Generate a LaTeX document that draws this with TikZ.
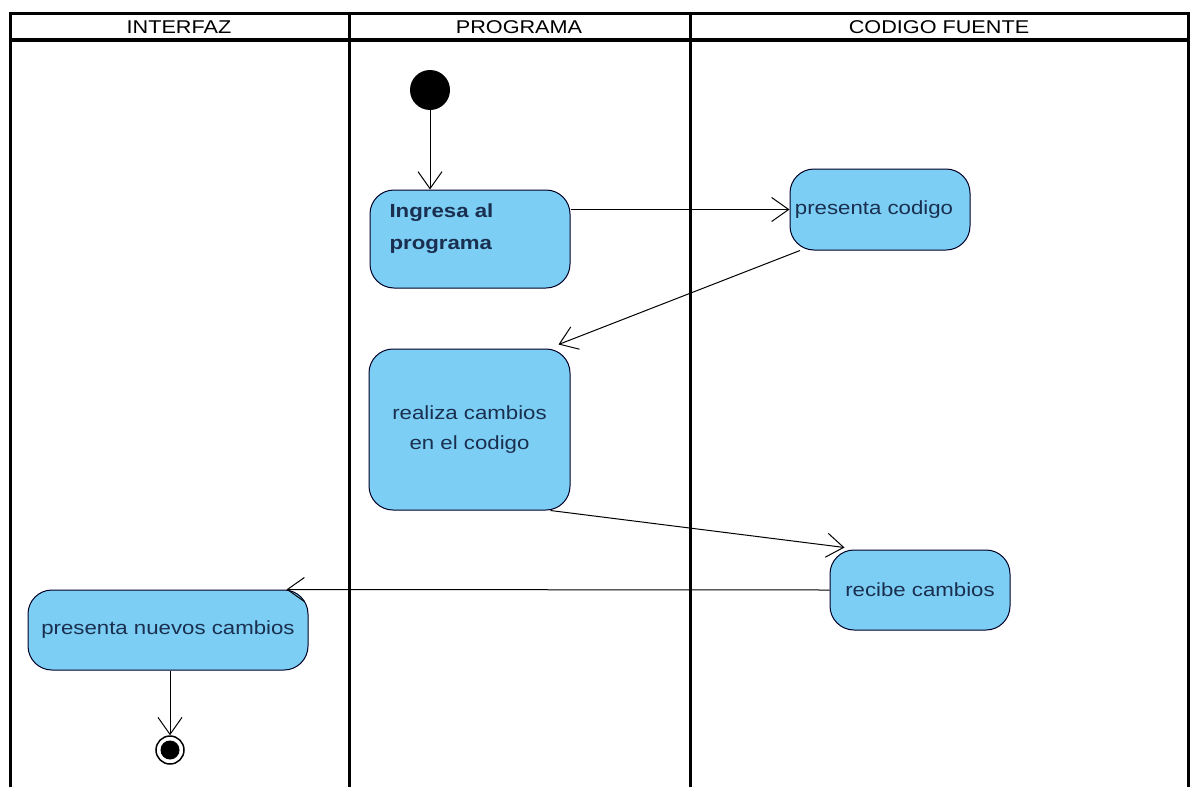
\documentclass[tikz,border=0pt]{standalone}
\usepackage{fontspec}
\setmainfont{Liberation Sans}[FakeStretch=1.17]
\usetikzlibrary{arrows.meta}
\definecolor{actfill}{HTML}{7CCEF4}
\definecolor{acttext}{HTML}{1A2F4F}
\tikzset{
  lane/.style={line width=3pt},
  act/.style={draw=black!85!blue, line width=1pt, fill=actfill, rounded corners=24pt, inner sep=0pt, text=acttext, font=\fontsize{19}{30}\selectfont},
  flow/.style={line width=1pt, -{Straight Barb[length=17pt,width=24pt,line width=1pt]}},
  hdr/.style={font=\fontsize{18.5}{20}\selectfont}
}
\begin{document}
\begin{tikzpicture}[x=1pt,y=-1pt]
\useasboundingbox (0,0) rectangle (1190,787);
% swimlanes
\draw[lane] (10,787) -- (10,13) -- (1188,13) -- (1188,787);
\draw[line width=4pt] (10,40) -- (1188,40);
\draw[lane] (349,13) -- (349,787);
\draw[lane] (690,13) -- (690,787);
\node[hdr] (h1) at (179,27) {INTERFAZ};
\node[hdr] (h2) at (519,27) {PROGRAMA};
\node[hdr] (h3) at (939,27) {CODIGO FUENTE};
% initial / final
\node[circle, fill=black, minimum size=40pt, inner sep=0pt] (init) at (430,90) {};
\node[circle, draw=black, line width=1.5pt, minimum size=28pt, inner sep=0pt] (fin) at (170,750) {};
\node[circle, fill=black, minimum size=19pt, inner sep=0pt] (finin) at (170,750) {};
% activities
\node[act, minimum width=200pt, minimum height=98pt] (ingresa) at (470,239) {};
\node[acttext, font=\bfseries\fontsize{19}{32}\selectfont, align=left, anchor=north west] (ingtxt) at (386,200) {Ingresa al\\programa};
\node[act, minimum width=180pt, minimum height=81pt] (pcod) at (880,209.5) {};
\node[text=acttext, font=\fontsize{19}{20}\selectfont] (pcodtxt) at (874,210) {presenta codigo};
\node[act, minimum width=201pt, minimum height=161pt, align=center] (realiza) at (469.5,429.5) {realiza cambios\\en el codigo};
\node[act, minimum width=180pt, minimum height=80pt] (recibe) at (920,590) {recibe cambios};
\node[act, minimum width=280pt, minimum height=80pt] (pnuevos) at (168,630) {presenta nuevos cambios};
% flows
\draw[flow] (init) -- (init |- ingresa.north);
\draw[flow] (ingresa.east |- pcod.west) -- (pcod.west);
\draw[flow] ([xshift=-80pt]pcod.south) -- ([shift={(-12pt,4pt)}]realiza.north east);
\draw[flow] ([xshift=-20pt]realiza.south east) -- ([shift={(15pt,2pt)}]recibe.north west);
\draw[flow] (recibe.west) -- ([shift={(-22pt,0pt)}]pnuevos.north east);
\draw[flow] ([xshift=2pt]pnuevos.south) -- (fin.north);
\end{tikzpicture}
\end{document}
